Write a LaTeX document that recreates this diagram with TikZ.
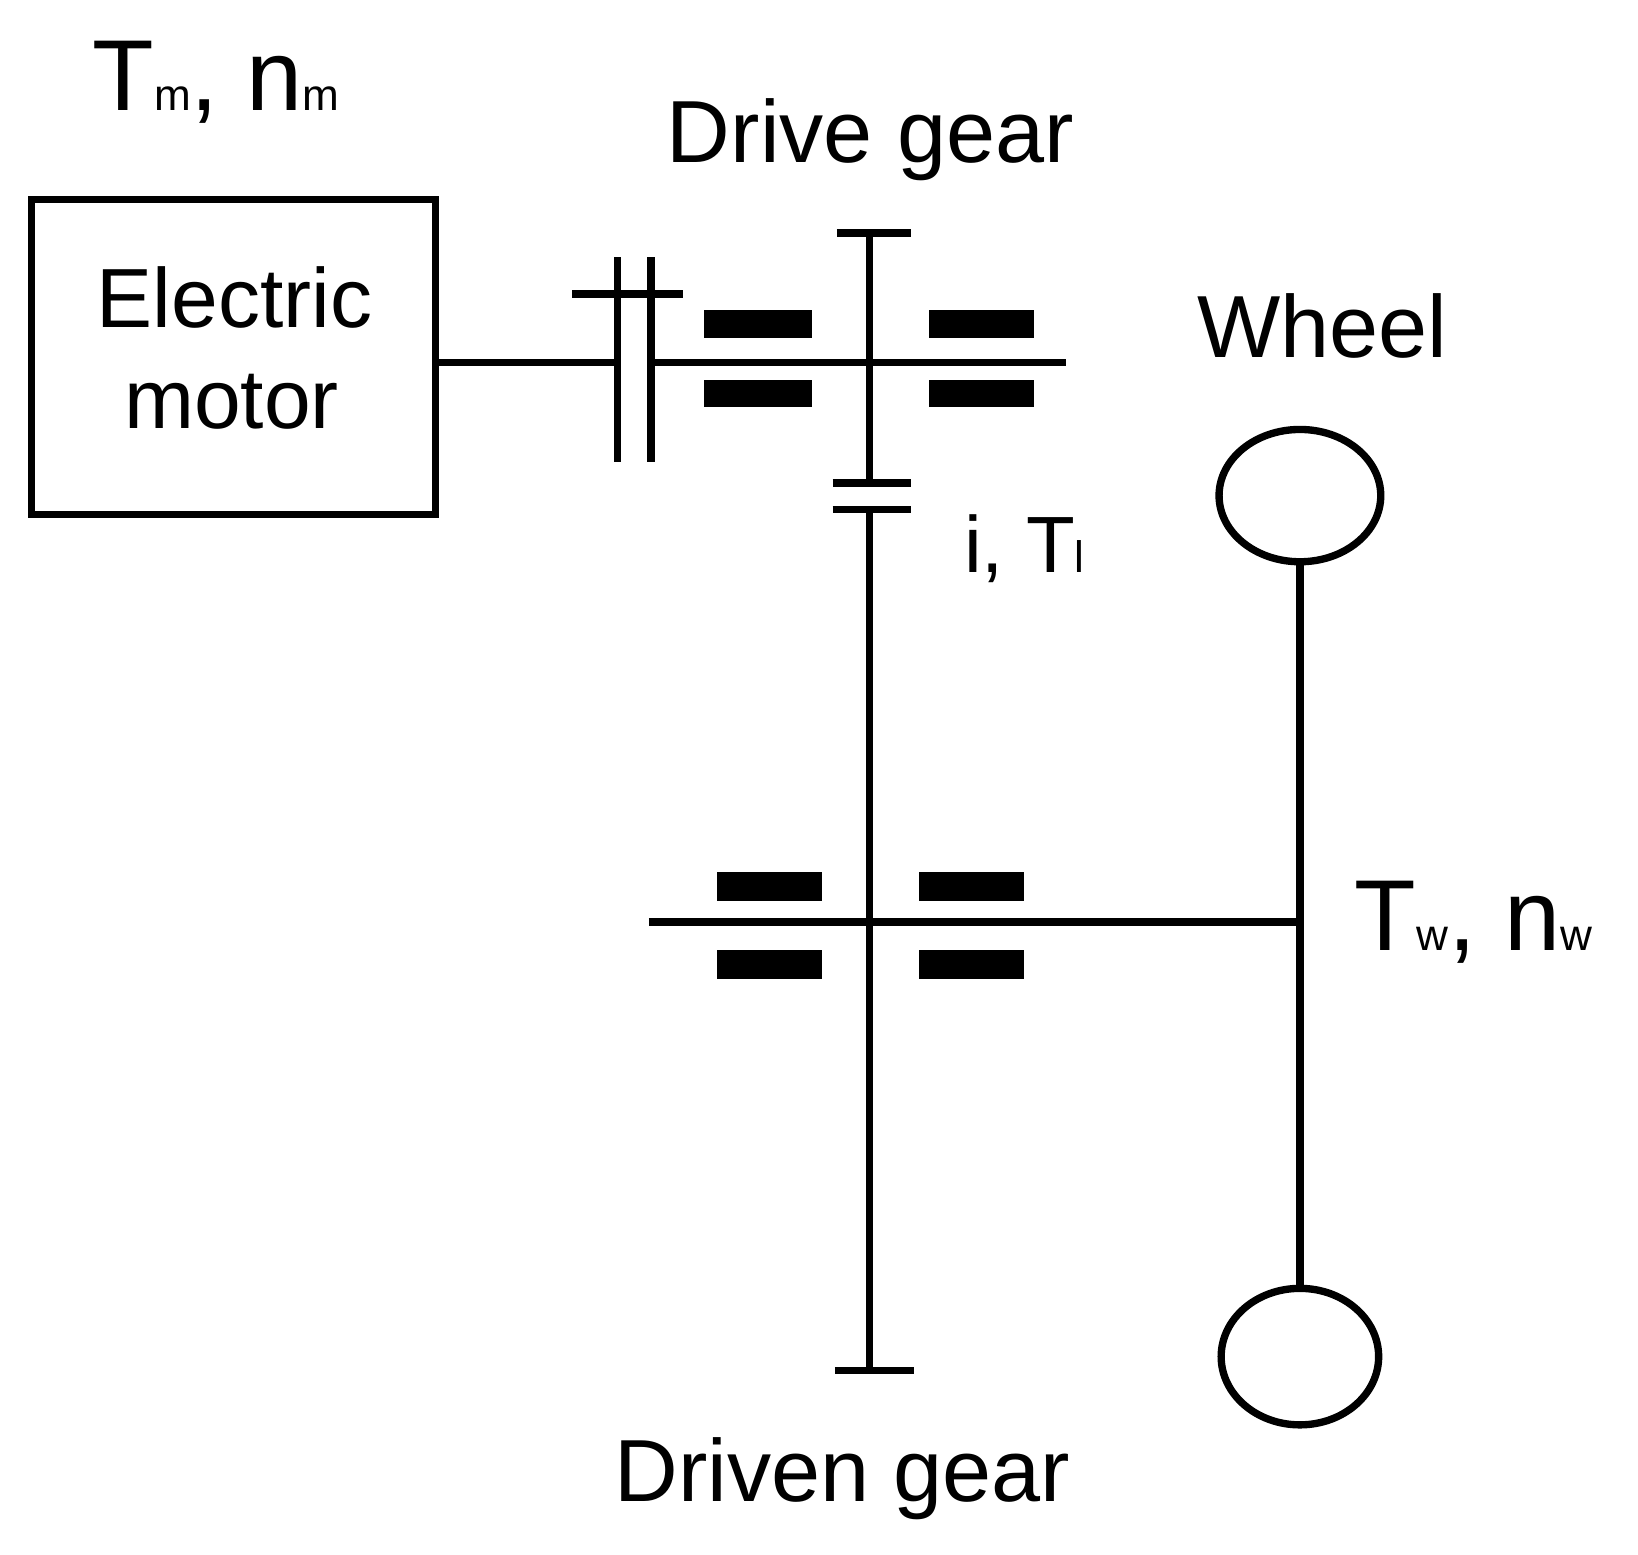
\documentclass[tikz,border=0pt]{standalone}
\usepackage{fontspec}
\setmainfont{Liberation Sans}
\usetikzlibrary{shapes.geometric}
\newcommand{\fs}[1]{\fontsize{#1}{#1}\selectfont}
\newcommand{\sbs}[1]{{\fontsize{42}{42}\selectfont #1}}
\begin{document}
\begin{tikzpicture}[x=1pt,y=-1pt,
  ln/.style={line width=7pt},
  brg/.style={fill=black},
  lbl/.style={inner sep=0pt,anchor=base west}]
\useasboundingbox (0,0) rectangle (1560,1480);
% motor
\node[draw,line width=7pt,minimum width=385pt,minimum height=300pt,inner sep=0pt] (motor) at (222.5,340) {};
\node[lbl] (el) at (92,312) {\fs{80}Electric};
\node[lbl] (mo) at (118,408) {\fs{80}motor};
\node[lbl] (tm) at (88,105) {\fs{96}T\sbs{m}, n\sbs{m}};
\node[lbl] (dg) at (635,155) {\fs{84}Drive gear};
\node[lbl] (wh) at (1140,340) {\fs{84}Wheel};
\node[lbl] (it) at (918,545) {\fs{76}i, T\sbs{l}};
\node[lbl] (tw) at (1290,905) {\fs{96}T\sbs{w}, n\sbs{w}};
\node[lbl] (dn) at (585,1430) {\fs{84}Driven gear};
% coordinates
\coordinate (c1) at (588,345);
\coordinate (c2) at (620,345);
\coordinate (sE) at (1015,345);
\coordinate (gT) at (828,222);
\coordinate (m1) at (828,460);
\coordinate (m2) at (828,485);
\coordinate (gB) at (828,1305);
\coordinate (lsW) at (618,878);
\coordinate (lsE) at (1238,878);
% shafts
\draw[ln] (motor.east |- c1) -- (c1);
\draw[ln] (588,245) -- (588,440);
\draw[ln] (620,245) -- (620,440);
\draw[ln] (545,280) -- (650,280);
\draw[ln] (c2) -- (sE);
% drive gear
\draw[ln] (gT) -- (m1);
\draw[ln] (797,222) -- (868,222);
\draw[ln] (793,460) -- (868,460);
\draw[ln] (793,485) -- (868,485);
\draw[ln] (m2) -- (gB);
\draw[ln] (795,1305) -- (870,1305);
\fill[brg] (670,295) rectangle (773,322);
\fill[brg] (670,362) rectangle (773,388);
\fill[brg] (885,295) rectangle (985,322);
\fill[brg] (885,362) rectangle (985,388);
% lower shaft
\draw[ln] (lsW) -- (lsE);
\fill[brg] (683,830) rectangle (783,858);
\fill[brg] (683,905) rectangle (783,932);
\fill[brg] (875,830) rectangle (975,858);
\fill[brg] (875,905) rectangle (975,932);
% wheel
\node[draw,ln,ellipse,minimum width=154pt,minimum height=126pt,inner sep=0pt] (w1) at (1238,472) {};
\node[draw,ln,ellipse,minimum width=150pt,minimum height=130pt,inner sep=0pt] (w2) at (1238,1292) {};
\draw[ln] (w1.south) -- (w2.north);
\end{tikzpicture}
\end{document}
